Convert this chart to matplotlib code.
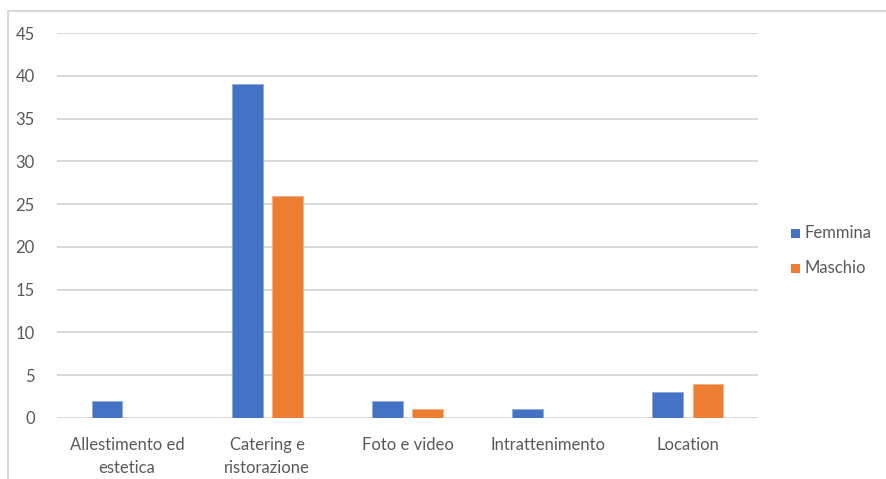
import matplotlib
matplotlib.use("Agg")
import matplotlib.pyplot as plt
import numpy as np
from matplotlib.patches import Rectangle
from matplotlib.lines import Line2D

categories = ["Allestimento ed\nestetica", "Catering e\nristorazione", "Foto e video",
              "Intrattenimento", "Location"]
femmina = [2, 39, 2, 1, 3]
maschio = [0, 26, 1, 0, 4]
series_names = ["Femmina", "Maschio"]
yticks = [0, 5, 10, 15, 20, 25, 30, 35, 40, 45]

blue = "#4472C4"
orange = "#ED7D31"
grid_col = "#D9D9D9"
text_col = "#595959"

plt.rcParams["font.family"] = ["Lato", "DejaVu Sans"]

fig = plt.figure(figsize=(8.86, 4.79), dpi=100)
ax = fig.add_axes([57 / 886, 1 - 418 / 479, (758 - 57) / 886, (418 - 33) / 479])

x = np.arange(len(categories))
w = 0.22
off = 0.143
ax.bar(x - off, femmina, w, color=blue, edgecolor="#8FA9DC", linewidth=0.6, zorder=3)
ax.bar(x + off, maschio, w, color=orange, edgecolor="#F4B183", linewidth=0.6, zorder=3)

ax.set_xlim(-0.5, len(categories) - 0.5)
ax.set_ylim(0, 45)
ax.set_yticks(yticks)
ax.yaxis.grid(True, color=grid_col, linewidth=1.4, zorder=0)
ax.set_axisbelow(True)
for s in ax.spines.values():
    s.set_visible(False)
ax.tick_params(axis="both", length=0, labelsize=12, colors=text_col)
ax.tick_params(axis="y", pad=16)
ax.tick_params(axis="x", pad=14)
ax.set_xticks(x)
ax.set_xticklabels(categories, linespacing=1.5)

# chart-area frame (top and left edges)
fig.add_artist(Line2D([8 / 886, 8 / 886], [0, 1 - 11 / 479], transform=fig.transFigure,
                      color=grid_col, linewidth=1.5))
fig.add_artist(Line2D([8 / 886, 1], [1 - 11 / 479, 1 - 11 / 479], transform=fig.transFigure,
                      color=grid_col, linewidth=1.5))

# legend
for i, (name, col) in enumerate(zip(series_names, [blue, orange])):
    yc = 1 - (233 + 35 * i) / 479
    fig.add_artist(Rectangle((791 / 886, yc - 4.5 / 479), 9 / 886, 9 / 479,
                             transform=fig.transFigure, facecolor=col, edgecolor="none"))
    fig.text(805 / 886, yc, name, ha="left", va="center", fontsize=12, color=text_col)

fig.savefig("out.png", dpi=100)
